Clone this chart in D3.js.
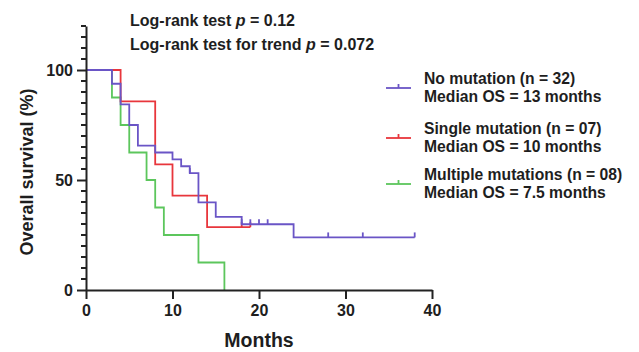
<!DOCTYPE html>
<html>
<head>
<meta charset="utf-8">
<script src="https://cdn.jsdelivr.net/npm/d3@7"></script>
<style>
  html, body { margin: 0; padding: 0; background: #fff; }
  svg { display: block; }
  text { font-family: "Liberation Sans", Arial, sans-serif; font-weight: bold; fill: #1e1e1e; }
</style>
</head>
<body>
<svg id="chart" width="639" height="352"></svg>
<script>
// Kaplan-Meier step data (time in months, survival in %)
const noMutTimes   = [0, 3, 4, 5, 6, 8, 10, 11, 12, 13, 15, 18, 24, 38];
const noMutSurv    = [100, 93.75, 84.38, 75, 65.63, 62.5, 59.38, 56.25, 53.13, 39.84, 33.2, 29.88, 23.9, 23.9];
const noMutCensor  = [12, 18, 19, 20, 21, 28, 32, 38];

const singleTimes  = [0, 4, 8, 10, 14, 19];
const singleSurv   = [100, 85.71, 57.14, 42.86, 28.57, 28.57];
const singleCensor = [18, 19];

const multiTimes   = [0, 3, 4, 5, 7, 8, 9, 13, 16];
const multiSurv    = [100, 87.5, 75, 62.5, 50, 37.5, 25, 12.5, 0];
const multiCensor  = [];

const groupNames   = ["No mutation (n = 32)", "Single mutation (n = 07)", "Multiple mutations (n = 08)"];
const medianLabels = ["Median OS = 13 months", "Median OS = 10 months", "Median OS = 7.5 months"];
const groupColors  = ["#6a55c6", "#e8363c", "#5cc65c"];

const xTicks = [0, 10, 20, 30, 40];
const yTicks = [0, 50, 100];

const groups = [
  { times: noMutTimes,  surv: noMutSurv,  censor: noMutCensor },
  { times: singleTimes, surv: singleSurv, censor: singleCensor },
  { times: multiTimes,  surv: multiSurv,  censor: multiCensor }
];

const svg = d3.select("#chart");
const x = d3.scaleLinear().domain([0, 40]).range([86, 432]);
const y = d3.scaleLinear().domain([0, 120]).range([290, 26]);
const axisColor = "#222";

// survival level at time t for a step function
function survAt(g, t) {
  let s = g.surv[0];
  for (let i = 0; i < g.times.length; i++) if (g.times[i] <= t) s = g.surv[i];
  return s;
}

// curves: green first, purple on top
const line = d3.line().x(d => x(d[0])).y(d => y(d[1])).curve(d3.curveStepAfter);
[2, 1, 0].forEach(i => {
  const g = groups[i];
  const pts = g.times.map((t, k) => [t, g.surv[k]]);
  svg.append("path")
    .attr("d", line(pts))
    .attr("fill", "none")
    .attr("stroke", groupColors[i])
    .attr("stroke-width", 1.8);
  svg.append("g").selectAll("line").data(g.censor).join("line")
    .attr("x1", t => x(t)).attr("x2", t => x(t))
    .attr("y1", t => y(survAt(g, t)))
    .attr("y2", t => y(survAt(g, t)) - 5)
    .attr("stroke", groupColors[i])
    .attr("stroke-width", 1.8);
});

// y axis
const yAxis = svg.append("g").attr("transform", `translate(${x(0)},0)`)
  .call(d3.axisLeft(y).tickValues(yTicks).tickSize(9).tickPadding(4).tickSizeOuter(0));
yAxis.select(".domain").attr("stroke", axisColor).attr("stroke-width", 2);
yAxis.selectAll(".tick line").attr("stroke", axisColor).attr("stroke-width", 2);
yAxis.selectAll(".tick text").style("font-size", "16px").attr("font-family", null).attr("fill", null);
const yMinor = d3.range(0, 121, 5).filter(v => !yTicks.includes(v));
yAxis.append("g").selectAll("line").data(yMinor).join("line")
  .attr("x1", 0).attr("x2", -5)
  .attr("y1", v => y(v)).attr("y2", v => y(v))
  .attr("stroke", axisColor).attr("stroke-width", 2);

// x axis
const xAxis = svg.append("g").attr("transform", `translate(0,${y(0)})`)
  .call(d3.axisBottom(x).tickValues(xTicks).tickSize(9).tickPadding(6).tickSizeOuter(0));
xAxis.select(".domain").attr("stroke", axisColor).attr("stroke-width", 2);
xAxis.selectAll(".tick line").attr("stroke", axisColor).attr("stroke-width", 2);
xAxis.selectAll(".tick text").style("font-size", "16px").attr("font-family", null).attr("fill", null);

// axis titles
svg.append("text").attr("x", x(20)).attr("y", 347)
  .attr("text-anchor", "middle").style("font-size", "19.5px").text("Months");
svg.append("text")
  .attr("transform", `translate(33,${y(50) - 8}) rotate(-90)`)
  .attr("text-anchor", "middle").style("font-size", "18px").text("Overall survival (%)");

// test statistics
const stats = [["Log-rank test ", "0.12", 26], ["Log-rank test for trend ", "0.072", 50]];
stats.forEach(([lead, val, yy]) => {
  const t = svg.append("text").attr("x", 130).attr("y", yy).style("font-size", "16px");
  t.append("tspan").text(lead);
  t.append("tspan").style("font-style", "italic").text("p");
  t.append("tspan").text(" = " + val);
});

// legend
const legendY = [88, 138, 184];
groupNames.forEach((name, i) => {
  const ly = legendY[i];
  svg.append("line").attr("x1", 386).attr("x2", 411).attr("y1", ly).attr("y2", ly)
    .attr("stroke", groupColors[i]).attr("stroke-width", 1.8);
  svg.append("line").attr("x1", 398.5).attr("x2", 398.5).attr("y1", ly).attr("y2", ly - 4)
    .attr("stroke", groupColors[i]).attr("stroke-width", 1.8);
  svg.append("text").attr("x", 424).attr("y", ly - 4).style("font-size", "15.7px").text(name);
  svg.append("text").attr("x", 424).attr("y", ly + 14).style("font-size", "15.7px").text(medianLabels[i]);
});
</script>
</body>
</html>
